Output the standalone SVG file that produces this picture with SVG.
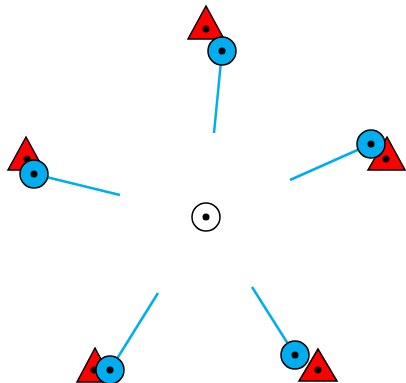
<svg xmlns="http://www.w3.org/2000/svg" width="406" height="383" viewBox="0 0 406 383">
<style>
.tri{fill:#ff0000;stroke:#000;stroke-width:1.5;stroke-linejoin:miter}
.cir{fill:#00aeef;stroke:#000;stroke-width:1.5}
.ctr{fill:#fff;stroke:#000;stroke-width:1.5}
.dot{fill:#000}
.edge{stroke:#00aeef;stroke-width:2.5;fill:none}
</style>
<rect width="406" height="383" fill="#fff"/>
<g id="connectors">
<line class="edge" x1="214" y1="133" x2="222" y2="51"/>
<line class="edge" x1="290" y1="180" x2="371" y2="144"/>
<line class="edge" x1="120" y1="195" x2="34" y2="174"/>
<line class="edge" x1="158" y1="293" x2="110" y2="370"/>
<line class="edge" x1="252" y1="287" x2="295" y2="355"/>
</g>
<g id="center">
<circle class="ctr" cx="206" cy="217" r="14"/>
<circle class="dot" cx="206" cy="217" r="3.5"/>
</g>
<g id="node-top">
<polygon class="tri" points="206,6 188,39 224,39"/>
<circle class="dot" cx="206" cy="29" r="3.5"/>
<circle class="cir" cx="222" cy="51" r="14"/>
<circle class="dot" cx="222" cy="51" r="3.5"/>
</g>
<g id="node-right">
<polygon class="tri" points="387,137 368,170 405,170"/>
<circle class="dot" cx="386" cy="159" r="3.5"/>
<circle class="cir" cx="371" cy="144" r="14"/>
<circle class="dot" cx="371" cy="144" r="3.5"/>
</g>
<g id="node-left">
<polygon class="tri" points="26,137 8,170 44,170"/>
<circle class="dot" cx="27" cy="159" r="3.5"/>
<circle class="cir" cx="34" cy="174" r="14"/>
<circle class="dot" cx="34" cy="174" r="3.5"/>
</g>
<g id="node-bottom-left">
<polygon class="tri" points="95,348 77,382 113,382"/>
<circle class="dot" cx="94" cy="370" r="3.5"/>
<circle class="cir" cx="110" cy="370" r="14"/>
<circle class="dot" cx="110" cy="370" r="3.5"/>
</g>
<g id="node-bottom-right">
<polygon class="tri" points="318,349 299,381 337,381"/>
<circle class="dot" cx="318" cy="370" r="3.5"/>
<circle class="cir" cx="295" cy="355" r="14"/>
<circle class="dot" cx="295" cy="355" r="3.5"/>
</g>
</svg>
